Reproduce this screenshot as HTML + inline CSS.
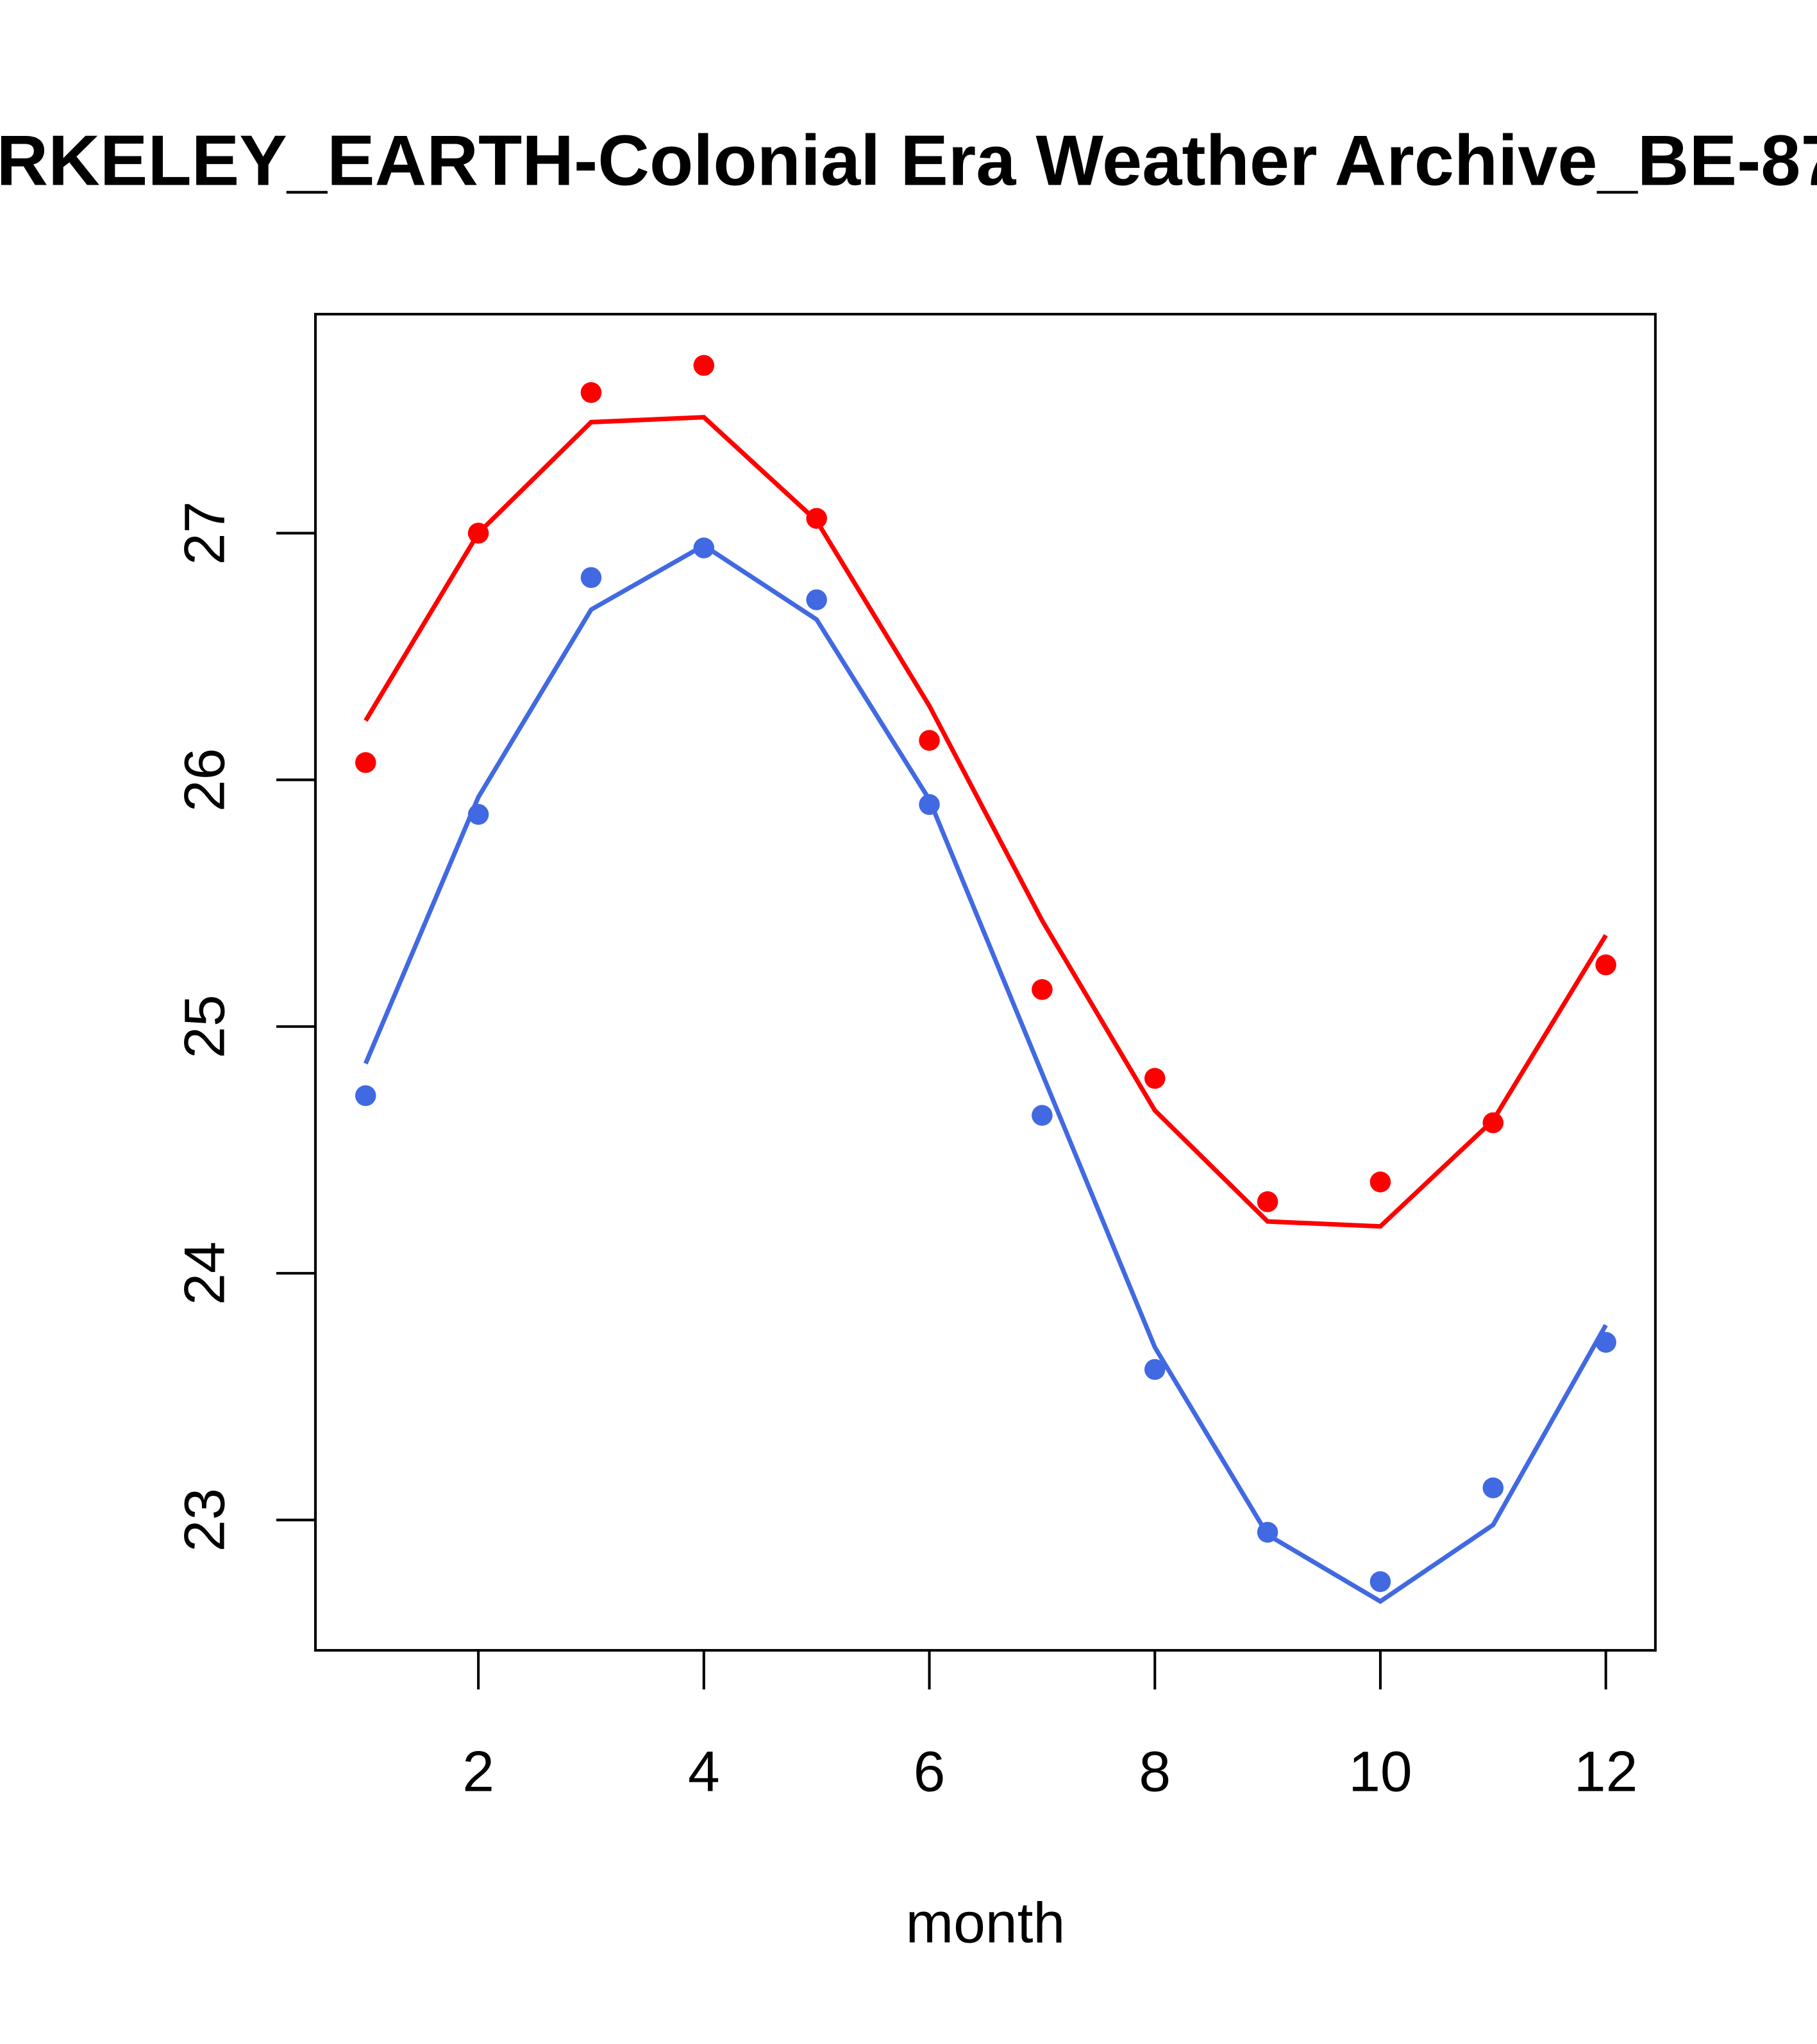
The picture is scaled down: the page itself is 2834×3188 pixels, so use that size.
<!DOCTYPE html>
<html><head><meta charset="utf-8"><style>html,body{margin:0;padding:0;background:#fff}svg{display:block}</style></head>
<body>
<svg width="2834" height="3188" viewBox="0 0 1394 1568" preserveAspectRatio="none" xmlns="http://www.w3.org/2000/svg" font-family="Liberation Sans, sans-serif">
<rect width="1394" height="1568" fill="#fff"/>
<text x="697" y="142" text-anchor="middle" font-size="55" font-weight="bold">BERKELEY_EARTH-Colonial Era Weather Archive_BE-8734</text>
<rect x="242" y="241" width="1028" height="1025" fill="none" stroke="#000" stroke-width="2"/>
<g id="axes"></g>
<g id="marks"></g>
<text x="756" y="1490" text-anchor="middle" font-size="44">month</text>
<script>
const months=[1,2,3,4,5,6,7,8,9,10,11,12];
const redPoints=[26.07,27.0,27.57,27.68,27.06,26.16,25.15,24.79,24.29,24.37,24.61,25.25];
const redLine=[26.24,27.0,27.45,27.47,27.05,26.30,25.43,24.66,24.21,24.19,24.62,25.37];
const bluePoints=[24.72,25.86,26.82,26.94,26.73,25.90,24.64,23.61,22.95,22.75,23.13,23.72];
const blueLine=[24.85,25.93,26.69,26.95,26.65,25.92,24.81,23.70,22.94,22.67,22.98,23.79];
const xTicks=[2,4,6,8,10,12];
const yTicks=[23,24,25,26,27];
const NS="http://www.w3.org/2000/svg";
function xs(m){return 367+(m-2)*86.5;}
function ys(v){return 1166-(v-23)*189.25;}
const axes=document.getElementById('axes'),marks=document.getElementById('marks');
function mk(tag,attrs,parent){const e=document.createElementNS(NS,tag);for(const k in attrs)e.setAttribute(k,attrs[k]);parent.appendChild(e);return e;}
mk('line',{x1:xs(2),x2:xs(12),y1:1266,y2:1266,stroke:'#000','stroke-width':2},axes);
xTicks.forEach(t=>{
 const l=mk('line',{x1:xs(t),x2:xs(t),y1:1266,y2:1296,stroke:'#000','stroke-width':2},axes);
 
 
 const tx=mk('text',{x:xs(t),y:1374,'text-anchor':'middle','font-size':44},axes);tx.textContent=t;
 
 
});
mk('line',{x1:242,x2:242,y1:ys(23),y2:ys(27),stroke:'#000','stroke-width':2},axes);
yTicks.forEach(t=>{
 const l=mk('line',{x1:212,x2:242,y1:ys(t),y2:ys(t),stroke:'#000','stroke-width':2},axes);
 
 
 const tx=mk('text',{x:0,y:0,'text-anchor':'middle','font-size':44,transform:`translate(172,${ys(t)}) rotate(-90)`},axes);tx.textContent=t;
 
 
});
function line(vals,color,name){
 const p=mk('polyline',{points:vals.map((v,i)=>xs(months[i])+','+ys(v)).join(' '),fill:'none',stroke:color,'stroke-width':3.5},marks);
 
 
}
function pts(vals,color,name){
 vals.forEach((v,i)=>{const c=mk('circle',{cx:xs(months[i]),cy:ys(v),r:8,fill:color},marks);
 
 });
}
line(redLine,'#ff0000','red-trend-line');
line(blueLine,'#4169e1','blue-trend-line');
pts(redPoints,'#ff0000','red-point');
pts(bluePoints,'#4169e1','blue-point');
</script>
</svg>
</body></html>
